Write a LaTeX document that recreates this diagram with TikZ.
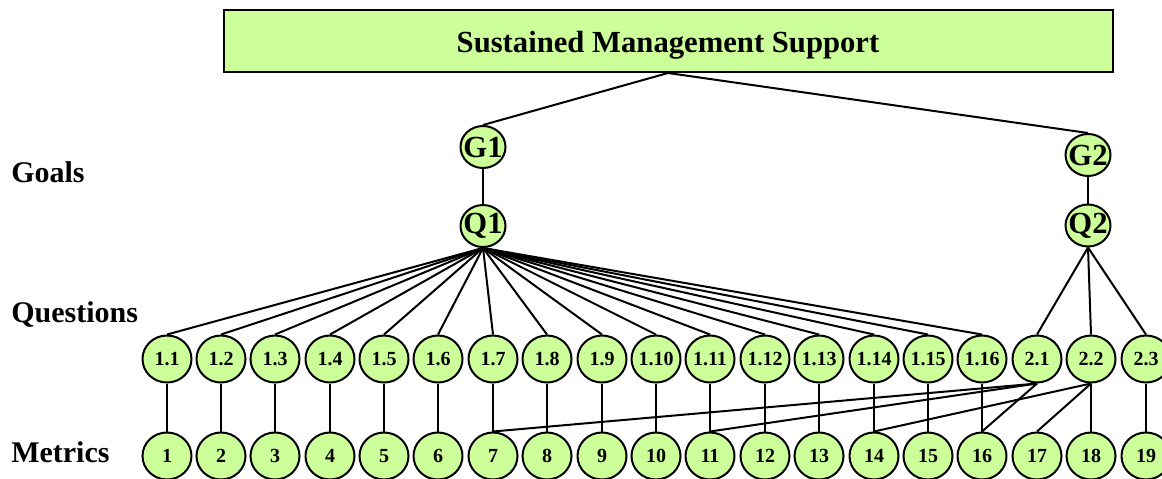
\documentclass[tikz,border=0pt]{standalone}
\usepackage{fontspec}
\setmainfont{Liberation Serif}
\usetikzlibrary{shapes.geometric}
\definecolor{lgreen}{RGB}{204,255,153}
\newcommand\zw[1]{\makebox[0pt]{#1}}
\begin{document}
\begin{tikzpicture}[x=0.75pt,y=-0.75pt,
  conn/.style={line width=1.5pt},
  circ/.style={ellipse,draw=black,fill=lgreen,line width=1.5pt,inner sep=0pt},
  qm/.style={circ,minimum width=36.75pt,minimum height=35.25pt,font=\fontsize{15}{16}\selectfont\bfseries},
  gq/.style={circ,minimum width=33.75pt,minimum height=31.5pt,font=\fontsize{23}{26}\selectfont\bfseries},
  lvl/.style={anchor=base west,inner sep=0pt,font=\fontsize{22.5}{26}\selectfont\bfseries}]
\useasboundingbox (0,0) rectangle (1162,478);
\node[draw, line width=1.5pt, fill=lgreen, minimum width=666.75pt, minimum height=46.5pt, inner sep=0pt, font=\fontsize{23}{27}\selectfont\bfseries] (title) at (668,41) {\raisebox{-3.5pt}[\height][\depth]{Sustained Management Support}};
\node[lvl] (lg) at (11,182) {Goals};
\node[lvl] (lq) at (11,322) {Questions};
\node[lvl] (lm) at (11,462) {Metrics};
\node[gq] (G1) at (483,147) {\zw{G1}};
\node[gq] (Q1) at (483,226) {\zw{Q1}};
\node[gq] (G2) at (1088,155) {\zw{G2}};
\node[gq] (Q2) at (1088,225.5) {\zw{Q2}};
\foreach \i/\t in {1/1.1,2/1.2,3/1.3,4/1.4,5/1.5,6/1.6,7/1.7,8/1.8,9/1.9,10/1.10,11/1.11,12/1.12,13/1.13,14/1.14,15/1.15,16/1.16,17/2.1,18/2.2,19/2.3}{
  \pgfmathsetmacro\xx{round(166.5+54.4*(\i-1))}
  \node[qm] (q\i) at (\xx,359) {\zw{\t}};
  \node[qm] (m\i) at (\xx,456) {\zw{\i}};
}
\draw[conn] (title.south) -- (G1.north);
\draw[conn] (title.south) -- (G2.north);
\draw[conn] (G1.south) -- (Q1.north);
\draw[conn] (G2.south) -- (Q2.north);
\foreach \i in {1,...,16} \draw[conn] (Q1.south) -- (q\i.north);
\foreach \i in {17,18,19} \draw[conn] (Q2.south) -- (q\i.north);
\foreach \i in {1,...,16,18,19} \draw[conn] (q\i.south) -- (m\i.north);
\foreach \j in {7,11,16} \draw[conn] (q17.south) -- (m\j.north);
\foreach \j in {14,17} \draw[conn] (q18.south) -- (m\j.north);
\end{tikzpicture}
\end{document}
